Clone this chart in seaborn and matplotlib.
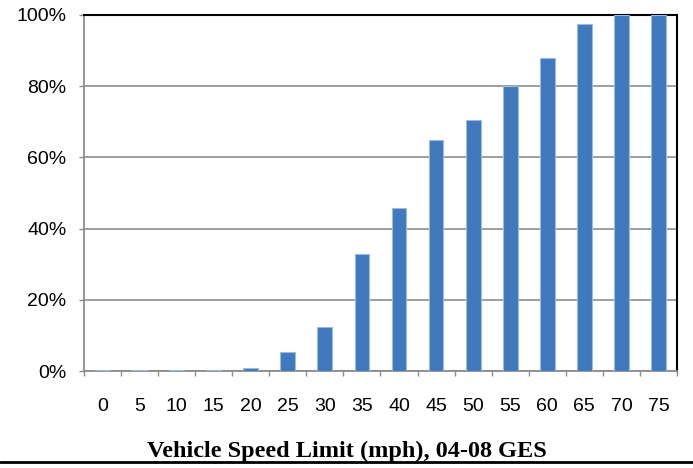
import numpy as np
import pandas as pd
import seaborn as sns
import matplotlib.pyplot as plt
from matplotlib.ticker import FixedLocator, PercentFormatter

# Data
speed_limits = ['0', '5', '10', '15', '20', '25', '30', '35', '40', '45',
                '50', '55', '60', '65', '70', '75']
share = [0.2, 0.2, 0.2, 0.2, 0.9, 5.4, 12.3, 33.0, 45.9, 65.0,
         70.6, 80.0, 88.0, 97.5, 100.0, 100.0]
y_ticks = [0, 20, 40, 60, 80, 100]

df = pd.DataFrame({'speed': speed_limits, 'pct': share})

sns.set_style('white')
plt.rcParams['font.family'] = ['Liberation Sans', 'DejaVu Sans']
plt.rcParams['text.color'] = 'black'
plt.rcParams['xtick.labelcolor'] = 'black'
plt.rcParams['ytick.labelcolor'] = 'black'

fig = plt.figure(figsize=(6.93, 4.68), dpi=100)
ax = fig.add_axes([0.121, 0.207, 0.856, 0.761])

sns.barplot(data=df, x='speed', y='pct', order=speed_limits, color='#4079bd',
            saturation=1, width=0.4, edgecolor='#9dbbe0', linewidth=0.8,
            ax=ax, zorder=3)

ax.set_ylim(0, 100)
ax.set_xlim(-0.5, len(speed_limits) - 0.5)
ax.set_yticks(y_ticks)
ax.yaxis.set_major_formatter(PercentFormatter(decimals=0))
ax.grid(axis='y', color='#969696', linewidth=1.3, zorder=0)

# tick marks between categories, labels at centres
ax.xaxis.set_minor_locator(FixedLocator(np.arange(-0.5, len(speed_limits), 1)))
ax.tick_params(axis='x', which='major', bottom=True, length=0, pad=19, labelsize=14)
ax.tick_params(axis='x', which='minor', bottom=True, length=3.6, color='#8c8c8c', width=1)
ax.tick_params(axis='y', left=True, length=3.6, color='#8c8c8c', width=1,
               labelsize=14, pad=9)

for s in ['left', 'bottom']:
    ax.spines[s].set_color('#8c8c8c')
    ax.spines[s].set_linewidth(1.3)
for s in ['top', 'right']:
    ax.spines[s].set_color('black')
    ax.spines[s].set_linewidth(1.5)
    ax.spines[s].set_visible(True)

ax.set_xlabel('')
ax.set_ylabel('')

fig.text(0.5, 0.036, 'Vehicle Speed Limit (mph), 04-08 GES', ha='center',
         va='center', fontsize=17.5, fontweight='bold', family='Liberation Serif')
fig.add_artist(plt.Line2D([0, 1], [0.013, 0.013], color='black', linewidth=2,
                          transform=fig.transFigure))

fig.savefig('out.png', dpi=100)
